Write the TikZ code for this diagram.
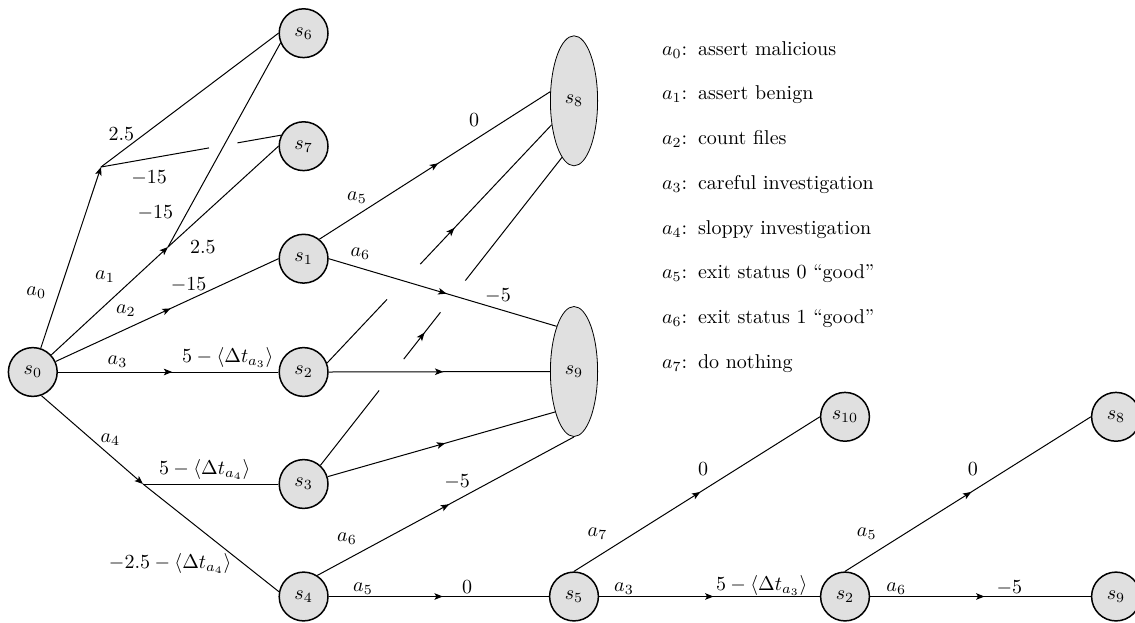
\documentclass[tikz,border=0pt]{standalone}
\usetikzlibrary{arrows.meta,calc,decorations.markings,shapes.geometric}
\definecolor{statefill}{RGB}{224,224,224}
\tikzset{
  state/.style={circle, draw, line width=0.75pt, fill=statefill, minimum size=24.4pt, inner sep=0pt},
  bigstate/.style={ellipse, draw, line width=0.4pt, fill=statefill, minimum width=23.6pt, minimum height=65pt, inner sep=0pt},
  edge/.style={line width=0.5pt},
  midarrow/.style={postaction={decorate, decoration={markings, mark=at position #1 with {\arrow[xshift=2pt]{>}}}}},
  midarrow/.default=0.5,
  lab/.style={inner sep=0pt},
  legend/.style={anchor=base west, inner sep=0pt}
}
\begin{document}
\begin{tikzpicture}[x=0.5pt, y=-0.5pt, >={Stealth[length=4.2pt,width=3.3pt,inset=1pt]}]
\useasboundingbox (0,0) rectangle (1135,622);

% states
\node[state] (s0) at (32.8,372) {$s_0$};
\node[state] (s6) at (303.6,33.2) {$s_6$};
\node[state] (s7) at (303.6,146.2) {$s_7$};
\node[state] (s1) at (303.6,258.7) {$s_1$};
\node[state] (s2) at (303.6,372) {$s_2$};
\node[state] (s3) at (303.6,484) {$s_3$};
\node[state] (s4) at (303.6,596.5) {$s_4$};
\node[bigstate] (s8) at (574,100.8) {$s_8$};
\node[bigstate] (s9) at (574,371.5) {$s_9$};
\node[state] (s5) at (574,596.5) {$s_5$};
\node[state] (s10) at (845,416.8) {$s_{10}$};
\node[state] (s2b) at (845,596.5) {$s_2$};
\node[state] (s8b) at (1116,416.8) {$s_8$};
\node[state] (s9b) at (1116,596.5) {$s_9$};

% chance points
\coordinate (c0) at (101,167);
\coordinate (c1) at (168,247);
\coordinate (c4) at (143,484);

% actions from s0
\draw[edge,->] (s0) -- (c0);
\draw[edge,->] (s0) -- (c1);
\draw[edge,midarrow] (s0) -- (s1.west);
\draw[edge,midarrow] (s0.east) -- (s2.west);
\draw[edge,->] (s0.290) -- (c4);

% outcomes of a0, a1, a4
\draw[edge] (c0) -- (s6.west);
\draw[edge] (c0) -- ($(c0)!0.6!(s7.154)$);
\draw[edge] ($(c0)!0.758!(s7.154)$) -- (s7.154);
\draw[edge] (c1) -- (s7.west);
\draw[edge] (c1) -- (s6.203);
\draw[edge] (c4) -- (s3.west);
\draw[edge] (c4) -- (s4.169);

% exits of the investigation states
\draw[edge,midarrow] (s1.51) -- (s8.159);
\draw[edge,midarrow] (s1.east) -- (s9.111);
\draw[edge] (s2.21) -- ($(s2.21)!0.267!(s8.227)$);
\draw[edge,midarrow=0.24] ($(s2.21)!0.415!(s8.227)$) -- (s8.227);
\draw[edge,midarrow] (s2.east) -- (s9.west);
\draw[edge] (s3.48) -- ($(s3.48)!0.243!(s8.258)$);
\draw[edge,midarrow] ($(s3.48)!0.345!(s8.258)$) -- ($(s3.48)!0.497!(s8.258)$);
\draw[edge] ($(s3.48)!0.6!(s8.258)$) -- (s8.258);
\draw[edge,midarrow] (s3.17) -- (s9.245);
\draw[edge,midarrow] (s4.57) -- (s9.south);
\draw[edge,midarrow] (s4.east) -- (s5.west);
\draw[edge,midarrow] (s5.north) -- (s10.west);
\draw[edge,midarrow] (s5.east) -- (s2b.west);
\draw[edge,midarrow] (s2b.north) -- (s8b.west);
\draw[edge,midarrow] (s2b.east) -- (s9b.west);

% action labels
\node[lab] (la0) at (36.2,292.7) {$a_0$};
\node[lab] (la1) at (105,277) {$a_1$};
\node[lab] (la2) at (125.8,310.8) {$a_2$};
\node[lab] (la3) at (117.5,361.7) {$a_3$};
\node[lab] (la4) at (110.3,440) {$a_4$};
\node[lab] (la5a) at (357,198) {$a_5$};
\node[lab] (la6a) at (360.3,254) {$a_6$};
\node[lab] (la6b) at (347,538.3) {$a_6$};
\node[lab] (la5b) at (363,588.8) {$a_5$};
\node[lab] (la7) at (597.5,534) {$a_7$};
\node[lab] (la3b) at (624,588.3) {$a_3$};
\node[lab] (la5c) at (866.7,533.7) {$a_5$};
\node[lab] (la6c) at (896.2,588.3) {$a_6$};

% reward labels
\node[lab] (r1) at (121.3,134.5) {$2.5$};
\node[lab] (r2) at (149.2,177.8) {$-15$};
\node[lab] (r3) at (155.3,213) {$-15$};
\node[lab] (r4) at (202.8,246.7) {$2.5$};
\node[lab] (r5) at (188.7,285) {$-15$};
\node[lab] (r6) at (227.8,357.5) {$5-\langle\Delta t_{a_3}\rangle$};
\node[lab] (r7) at (204.7,469) {$5-\langle\Delta t_{a_4}\rangle$};
\node[lab] (r8) at (170.2,563.3) {$-2.5-\langle\Delta t_{a_4}\rangle$};
\node[lab] (r9) at (474.2,120.3) {$0$};
\node[lab] (r10) at (498,295.8) {$-5$};
\node[lab] (r11) at (457.2,481.7) {$-5$};
\node[lab] (r12) at (467,586.7) {$0$};
\node[lab] (r13) at (703,468.8) {$0$};
\node[lab] (r14) at (761.7,585) {$5-\langle\Delta t_{a_3}\rangle$};
\node[lab] (r15) at (972.8,468.8) {$0$};
\node[lab] (r16) at (1009.3,588.3) {$-5$};

% legend of actions
\node[legend] (leg0) at (661.7,55) {\makebox[18pt][l]{$a_0$:}assert malicious};
\node[legend] (leg1) at (661.7,99.75) {\makebox[18pt][l]{$a_1$:}assert benign};
\node[legend] (leg2) at (661.7,144.5) {\makebox[18pt][l]{$a_2$:}count files};
\node[legend] (leg3) at (661.7,189.25) {\makebox[18pt][l]{$a_3$:}careful investigation};
\node[legend] (leg4) at (661.7,234) {\makebox[18pt][l]{$a_4$:}sloppy investigation};
\node[legend] (leg5) at (661.7,278.75) {\makebox[18pt][l]{$a_5$:}exit status 0 “good”};
\node[legend] (leg6) at (661.7,323.5) {\makebox[18pt][l]{$a_6$:}exit status 1 “good”};
\node[legend] (leg7) at (661.7,368.25) {\makebox[18pt][l]{$a_7$:}do nothing};
\end{tikzpicture}
\end{document}
